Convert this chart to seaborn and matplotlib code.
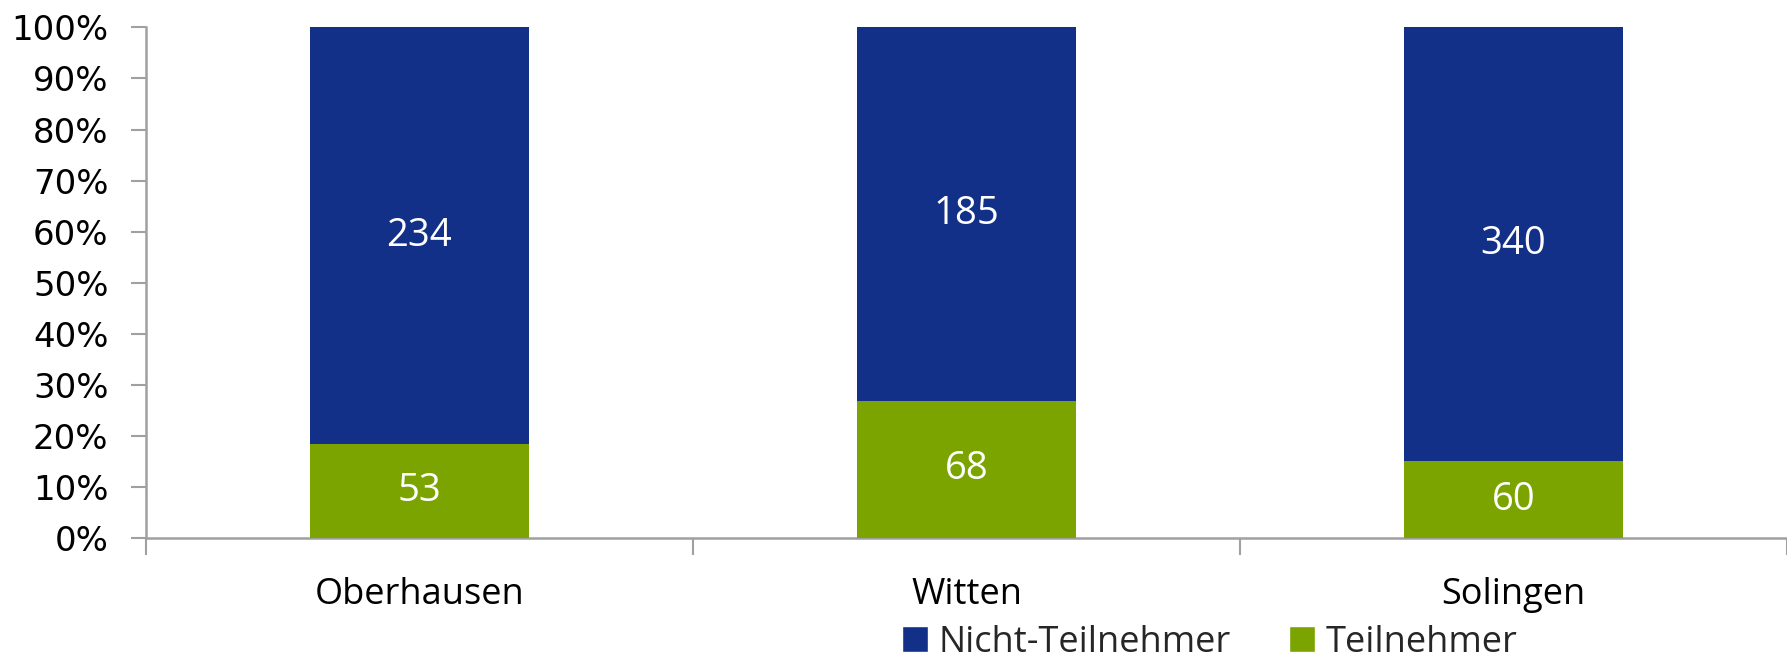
import matplotlib
matplotlib.use("Agg")
import matplotlib.pyplot as plt
import seaborn as sns
import pandas as pd
from matplotlib.ticker import FixedLocator, FuncFormatter
from matplotlib.patches import Patch

# Survey counts per city
cities = ["Oberhausen", "Witten", "Solingen"]
teilnehmer = [53, 68, 60]
nicht_teilnehmer = [234, 185, 340]

blue = "#123088"
green = "#7BA400"
axis_grey = "#A0A0A0"

totals = [t + n for t, n in zip(teilnehmer, nicht_teilnehmer)]
df = pd.DataFrame({
    "Stadt": cities,
    "total": [100.0] * len(cities),
    "teil_pct": [100.0 * t / s for t, s in zip(teilnehmer, totals)],
})

sns.set_theme(style="white")
plt.rcParams["font.family"] = ["Open Sans", "DejaVu Sans"]

fig = plt.figure(figsize=(17.87, 6.60), dpi=100)
ax = fig.add_axes([0.0817, 0.1848, 0.9183, 0.7737])

# Stacked 100% bars: full-height non-participant bar, participant share on top
sns.barplot(data=df, x="Stadt", y="total", color=blue, width=0.4,
            saturation=1, linewidth=0, ax=ax, zorder=2)
sns.barplot(data=df, x="Stadt", y="teil_pct", color=green, width=0.4,
            saturation=1, linewidth=0, ax=ax, zorder=3)

bars_blue = ax.containers[0]
bars_green = ax.containers[1]

# Count labels centred in each segment
for i, (bb, gb) in enumerate(zip(bars_blue, bars_green)):
    g_h = gb.get_height()
    ax.text(bb.get_x() + bb.get_width() / 2, (g_h + 100) / 2,
            str(nicht_teilnehmer[i]), ha="center", va="center",
            color="white", fontsize=27.5, zorder=4)
    ax.text(gb.get_x() + gb.get_width() / 2, g_h / 2,
            str(teilnehmer[i]), ha="center", va="center",
            color="white", fontsize=27.5, zorder=4)

ax.set_xlim(-0.5, 2.5)
ax.set_ylim(0, 100)
ax.set_xlabel("")
ax.set_ylabel("")

# Y axis: percent ticks
ax.yaxis.set_major_locator(FixedLocator(range(0, 101, 10)))
ax.yaxis.set_major_formatter(FuncFormatter(lambda v, p: f"{int(v)}%"))
ax.tick_params(axis="y", which="major", direction="out", length=11,
               width=1.5, color=axis_grey, labelsize=24.5, pad=16,
               labelcolor="black", left=True)
for lab in ax.get_yticklabels():
    lab.set_fontfamily(["DejaVu Sans"])

# X axis: boundary tick marks, category names between them
ax.xaxis.set_major_locator(FixedLocator([-0.5, 0.5, 1.5, 2.5]))
ax.xaxis.set_major_formatter(FuncFormatter(lambda v, p: ""))
ax.xaxis.set_minor_locator(FixedLocator([0, 1, 2]))
ax.xaxis.set_minor_formatter(FuncFormatter(lambda v, p: cities[int(round(v))]))
ax.tick_params(axis="x", which="major", direction="out", length=12,
               width=1.5, color=axis_grey, bottom=True)
ax.tick_params(axis="x", which="minor", length=0, labelsize=26, pad=28,
               labelcolor="black")

for side in ["top", "right"]:
    ax.spines[side].set_visible(False)
for side in ["left", "bottom"]:
    ax.spines[side].set_color(axis_grey)
    ax.spines[side].set_linewidth(1.8)

handles = [Patch(facecolor=blue, label="Nicht-Teilnehmer"),
           Patch(facecolor=green, label="Teilnehmer")]
fig.legend(handles=handles, loc="center", bbox_to_anchor=(0.677, 0.026),
           ncol=2, frameon=False, fontsize=26, handlelength=0.72,
           handleheight=0.72, handletextpad=0.3, columnspacing=1.6,
           borderpad=0.1)

fig.savefig("out.png", dpi=100)
